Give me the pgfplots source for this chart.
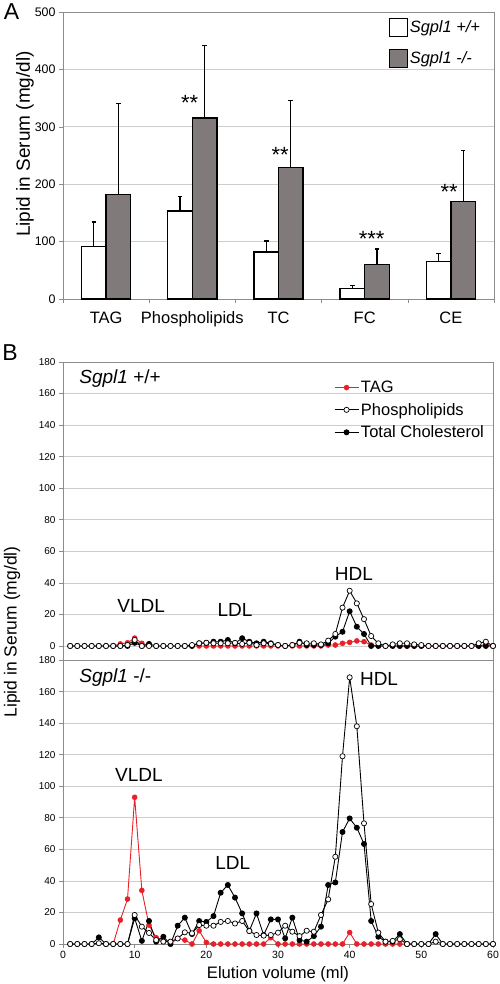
\documentclass[border=0pt]{standalone}
\usepackage{pgfplots}
\pgfplotsset{compat=1.18}
\usepackage{fontspec}
\setmainfont{Liberation Sans}
\definecolor{barg}{RGB}{128,123,122}
\definecolor{tagred}{RGB}{232,32,40}
\definecolor{gridc}{RGB}{205,205,205}
\definecolor{framec}{RGB}{140,140,140}
\newcommand{\fs}[1]{\fontsize{#1}{#1}\selectfont}
\pgfplotsset{
  myax/.style={scale only axis, anchor=south west,
    /pgf/number format/assume math mode=true,
    axis line style={framec, line width=0.8pt},
    tick style={framec, line width=0.6pt},
    tick align=outside, major tick length=4pt, minor tick length=4pt,
    xtick pos=bottom, ytick pos=left,
    grid style={gridc, line width=0.7pt},
    ymajorgrids},
  tagst/.style={tagred, line width=0.9pt, mark=*, mark size=2.5pt, mark options={fill=tagred, draw=tagred, line width=0.5pt}},
  plst/.style={black, line width=0.9pt, mark=*, mark size=2.6pt, mark options={fill=white, draw=black, line width=0.7pt}},
  tcst/.style={black, line width=0.9pt, mark=*, mark size=2.5pt, mark options={fill=black, draw=black}},
  barst/.style={ybar, bar width=0.285, bar shift=0pt, draw=black, line width=1.4pt, forget plot,
    error bars/.cd, y dir=plus, y explicit, error bar style={line width=1.2pt, black},
    error mark options={rotate=90, mark size=2.3pt, line width=1.2pt, black}},
}
\begin{document}
\begin{tikzpicture}
\useasboundingbox (0,0) rectangle (500pt,-984pt);
% ---------------- Panel A ----------------
\begin{axis}[myax, at={(63pt,-299pt)}, width=431pt, height=287pt,
  xmin=0.5, xmax=5.5, ymin=0, ymax=500, ytick={0,100,...,500},
  xtick={1,...,5}, xticklabels={TAG,Phospholipids,TC,FC,CE},
  minor xtick={0.5,1.5,...,5.5}, major x tick style={draw=none},
  yticklabel style={font=\fs{12.4}}, xticklabel style={font=\fs{16.5}, yshift=-5pt},
  legend style={at={(0.749,0.986)}, anchor=north west, draw=none, fill=none,
    font=\fs{16.4}, row sep=12pt, legend cell align=left},
  ]
\addlegendimage{legend image code/.code={\draw[black,fill=white,line width=0.8pt] (0pt,-9pt) rectangle (18pt,9pt);}}
\addlegendentry{\textit{Sgpl1 +/+}}
\addlegendimage{legend image code/.code={\draw[black,fill=barg,line width=0.8pt] (0pt,-9pt) rectangle (18pt,9pt);}}
\addlegendentry{\textit{Sgpl1 -/-}}
% Sgpl1 +/+ (bars at category - 0.1425)
\addplot[fill=white, barst]
  coordinates {(0.8575,91) +- (0,43) (1.8575,153) +- (0,25) (2.8575,82) +- (0,19) (3.8575,18) +- (0,5) (4.8575,65) +- (0,14)};
% Sgpl1 -/- (bars at category + 0.1425)
\addplot[fill=barg, barst]
  coordinates {(1.1425,182) +- (0,158) (2.1425,315) +- (0,127) (3.1425,229) +- (0,117) (4.1425,60) +- (0,27) (5.1425,170) +- (0,89)};
\node[font=\fs{22}] at (axis cs:1.97,341) {**};
\node[font=\fs{22}] at (axis cs:3.02,251) {**};
\node[font=\fs{22}] at (axis cs:4.08,104) {***};
\node[font=\fs{22}] at (axis cs:4.98,186) {**};
\end{axis}
% ---------------- Panel B top ----------------
\begin{axis}[myax, at={(63pt,-660pt)}, width=430pt, height=298pt,
  xmin=0, xmax=60, ymin=-8.9, ymax=180, ytick={0,20,...,180}, xtick=\empty,
  clip=false, yticklabel style={font=\fs{10}},
  legend image code/.code={\draw[mark repeat=2,mark phase=2,#1] plot coordinates {(0pt,0pt) (12pt,0pt) (24pt,0pt)};},
  legend style={at={(0.623,0.95)}, anchor=north west, draw=none, fill=none,
    font=\fs{16.5}, row sep=5pt, legend cell align=left},
  ]
\addlegendimage{tagst}\addlegendentry{TAG}
\addlegendimage{plst}\addlegendentry{Phospholipids}
\addlegendimage{tcst}\addlegendentry{Total Cholesterol}
\addplot[tagst, forget plot] coordinates {(7,0) (8,1.3) (9,2) (10,5) (11,1.7) (12,0)};
\addplot[tagst, forget plot] coordinates {(18,0) (19,0) (20,0) (21,0) (22,0) (23,0) (24,0) (25,0) (26,0) (27,0) (28,0) (29,0) (30,0) (31,0) (32,0) (33,0) (34,0) (35,0) (36,0) (37,0.6) (38,0.6) (39,1.7) (40,2.3) (41,3.2) (42,2.7) (43,0.6) (44,0) (45,0) (46,0) (47,0) (48,0) (49,0) (50,0) (51,0) (52,0) (53,0) (54,0) (55,0) (56,0) (57,0) (58,0) (59,1) (60,0)};
\addplot[tcst, forget plot] coordinates {(1,0) (2,0) (3,0) (4,0) (5,0) (6,0) (7,0) (8,0) (9,0) (10,2) (11,0) (12,1.3) (13,0) (14,0) (15,0) (16,0) (17,0) (18,0) (19,1.7) (20,2) (21,2.7) (22,2.7) (23,3.8) (24,1.7) (25,4.9) (26,2.7) (27,1.7) (28,2.7) (29,1.7) (30,0.6) (31,0) (32,0.6) (33,2.7) (34,0.6) (35,0.6) (36,0.6) (37,1.7) (38,5.9) (39,9) (40,22) (41,12.2) (42,7.6) (43,0) (44,0) (45,0) (46,0) (47,0) (48,0) (49,0) (50,0) (51,0) (52,0) (53,0) (54,0) (55,0) (56,0) (57,0) (58,0) (59,0) (60,0)};
\addplot[plst, forget plot] coordinates {(1,0) (2,0) (3,0) (4,0) (5,0) (6,0) (7,0) (8,0) (9,0.6) (10,3.8) (11,0) (12,0) (13,0) (14,0) (15,0) (16,0) (17,0) (18,0.6) (19,1.7) (20,2) (21,1.7) (22,1.7) (23,1.7) (24,2) (25,1.3) (26,2) (27,0.6) (28,1.7) (29,1.3) (30,0.6) (31,0) (32,0.6) (33,2) (34,1.7) (35,1.7) (36,1) (37,3.4) (38,7.6) (39,24.3) (40,35) (41,27) (42,17) (43,6.3) (44,1.7) (45,0) (46,1) (47,1.7) (48,1.7) (49,1) (50,0.6) (51,0) (52,0) (53,0) (54,0) (55,0) (56,0) (57,0) (58,1.7) (59,2.7) (60,0)};
\node[anchor=west, font=\fs{19}] at (axis cs:1.8,169.8) {\textit{Sgpl1} +/+};
\node[font=\fs{19}] at (axis cs:10.9,25.3) {VLDL};
\node[font=\fs{19}] at (axis cs:24.0,22.8) {LDL};
\node[font=\fs{19}] at (axis cs:40.6,45.6) {HDL};
\end{axis}
% ---------------- Panel B bottom ----------------
\begin{axis}[myax, at={(63pt,-944pt)}, width=430pt, height=284pt,
  xmin=0, xmax=60, ymin=0, ymax=180, ytick={0,20,...,180}, xtick={0,10,...,60},
  clip=false, yticklabel style={font=\fs{10}}, xticklabel style={font=\fs{10.5}},
  xlabel={Elution volume (ml)}, xlabel style={font=\fs{16.6}, yshift=-1pt},
  ]
\addplot[tagst] coordinates {(7,0) (8,15.2) (9,28.5) (10,93) (11,34) (12,12) (13,4) (14,3) (15,0) (16,3.6) (17,2.5) (18,0) (19,8.4) (20,1) (21,0) (22,0) (23,0) (24,0) (25,0) (26,0) (27,0) (28,0) (29,4) (30,0) (31,0) (32,0) (33,0) (34,0) (35,0) (36,0) (37,0) (38,0) (39,0) (40,7.3) (41,0) (42,0) (43,0) (44,0) (45,0) (46,0) (47,0) (48,0) (49,0)};
\addplot[tcst] coordinates {(1,0) (2,0) (3,0) (4,0) (5,4.2) (6,0) (7,0) (8,0) (9,0) (10,16.3) (11,2) (12,14.6) (13,1.5) (14,4.6) (15,0) (16,11.6) (17,16.7) (18,6.3) (19,14.6) (20,14) (21,17.7) (22,32.5) (23,37.4) (24,29.4) (25,19.4) (26,8.4) (27,19.4) (28,5.7) (29,15.6) (30,15.6) (31,3.6) (32,16.7) (33,2.5) (34,1.5) (35,5) (36,11) (37,37.4) (38,39) (39,71) (40,79.6) (41,73.7) (42,63.4) (43,14.6) (44,4.6) (45,1.5) (46,1.5) (47,6.3) (48,0) (49,0) (50,0) (51,0) (52,6.3) (53,0) (54,0) (55,0) (56,0) (57,0) (58,0) (59,0) (60,0)};
\addplot[plst] coordinates {(1,0) (2,0) (3,0) (4,0) (5,0.5) (6,0) (7,0) (8,0) (9,0) (10,18.4) (11,11) (12,7) (13,2.5) (14,1.5) (15,1.5) (16,3.5) (17,7.4) (18,6.8) (19,12) (20,11.6) (21,11.6) (22,14) (23,14.6) (24,13) (25,14.6) (26,8.2) (27,5.7) (28,5.3) (29,5.7) (30,7.2) (31,11.6) (32,7.8) (33,5) (34,8.4) (35,7.8) (36,18.4) (37,28.3) (38,55.3) (39,119) (40,169) (41,138) (42,76.5) (43,25.3) (44,7.2) (45,1.5) (46,2) (47,3) (48,0) (49,0) (50,0) (51,0) (52,1.5) (53,0) (54,0) (55,0) (56,0) (57,0) (58,0) (59,0) (60,0)};
\node[anchor=west, font=\fs{19}] at (axis cs:1.8,168.6) {\textit{Sgpl1} -/-};
\node[font=\fs{19}] at (axis cs:10.6,107) {VLDL};
\node[font=\fs{19}] at (axis cs:23.7,51.3) {LDL};
\node[font=\fs{19}] at (axis cs:44.1,167.9) {HDL};
\end{axis}
% panel letters and y labels
\node[font=\fs{23}] at (11.5pt,-11.5pt) {A};
\node[font=\fs{23}] at (10pt,-353pt) {B};
\node[font=\fs{19}, rotate=90] at (25pt,-144pt) {Lipid in Serum (mg/dl)};
\node[font=\fs{17.5}, rotate=90] at (12pt,-632pt) {Lipid in Serum (mg/dl)};
\end{tikzpicture}
\end{document}
